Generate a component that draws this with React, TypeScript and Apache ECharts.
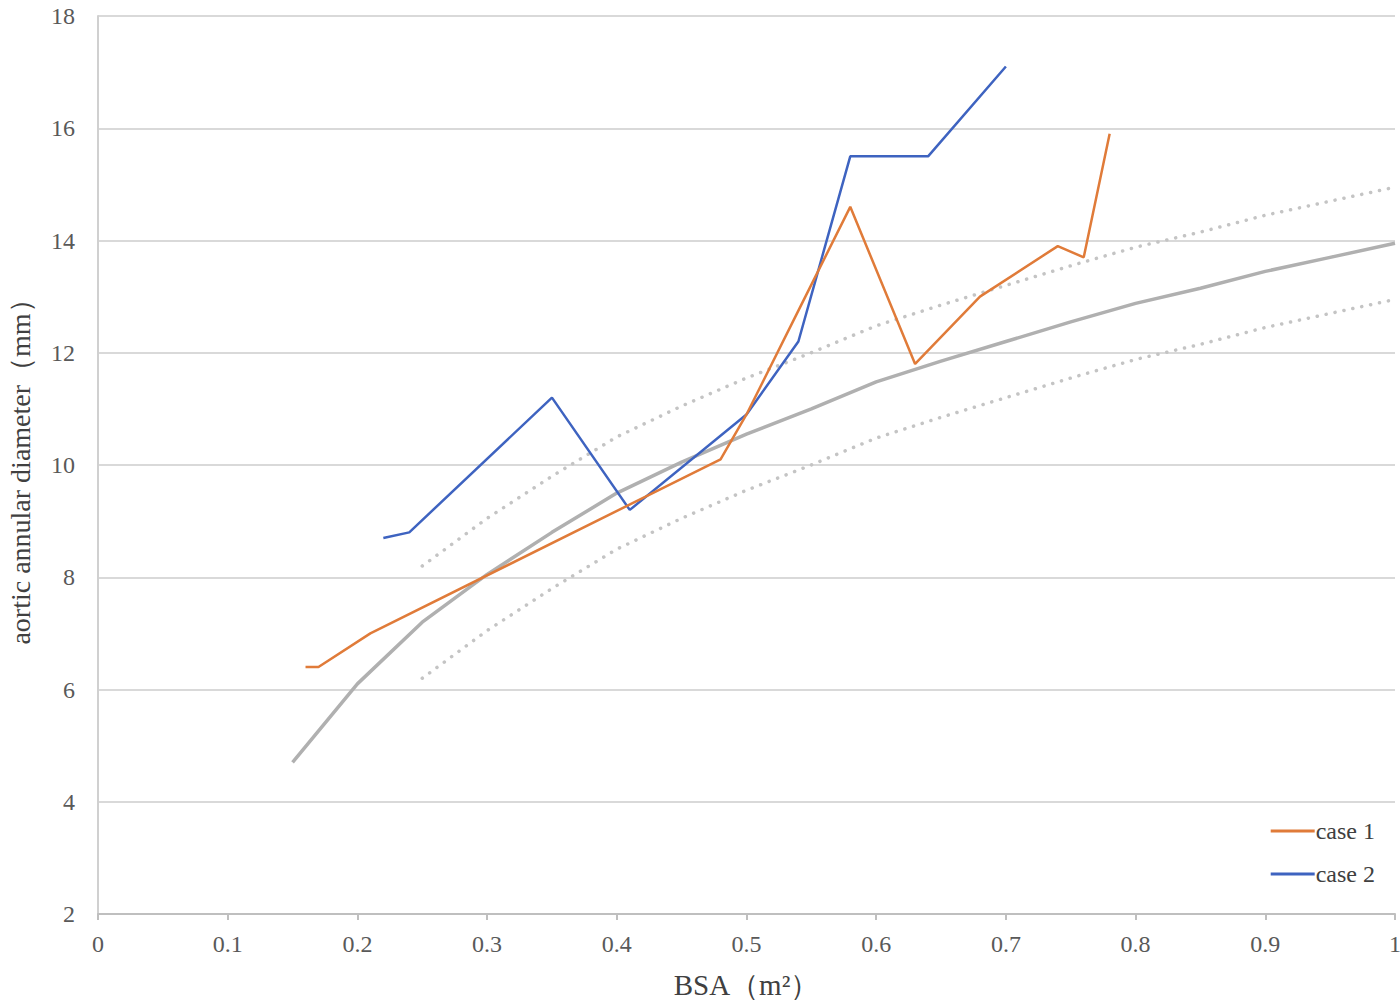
import React, { useEffect, useRef } from "react";
import * as echarts from "echarts";

const meanX = [0.15, 0.2, 0.25, 0.3, 0.35, 0.4, 0.45, 0.5, 0.55, 0.6, 0.65, 0.7, 0.75, 0.8, 0.85, 0.9, 0.95, 1.0];
const meanY = [4.7, 6.1, 7.2, 8.05, 8.8, 9.5, 10.05, 10.55, 11.0, 11.48, 11.85, 12.2, 12.55, 12.88, 13.15, 13.45, 13.7, 13.95];

const bandX = [0.25, 0.3, 0.35, 0.4, 0.45, 0.5, 0.55, 0.6, 0.65, 0.7, 0.75, 0.8, 0.85, 0.9, 0.95, 1.0];
const upperY = [8.2, 9.05, 9.8, 10.5, 11.05, 11.55, 12.0, 12.48, 12.85, 13.2, 13.55, 13.88, 14.15, 14.45, 14.7, 14.95];
const lowerY = [6.2, 7.05, 7.8, 8.5, 9.05, 9.55, 10.0, 10.48, 10.85, 11.2, 11.55, 11.88, 12.15, 12.45, 12.7, 12.95];

const case1X = [0.16, 0.17, 0.21, 0.48, 0.5, 0.54, 0.58, 0.63, 0.68, 0.74, 0.76, 0.78];
const case1Y = [6.4, 6.4, 7.0, 10.1, 10.9, 12.75, 14.6, 11.8, 13.0, 13.9, 13.7, 15.9];

const case2X = [0.22, 0.24, 0.35, 0.41, 0.5, 0.54, 0.58, 0.64, 0.7];
const case2Y = [8.7, 8.8, 11.2, 9.2, 10.9, 12.2, 15.5, 15.5, 17.1];

const xTicks = ["0", "0.1", "0.2", "0.3", "0.4", "0.5", "0.6", "0.7", "0.8", "0.9", "1"];

const zip = (xs: number[], ys: number[]) => xs.map((x, i) => [x, ys[i]]);

const FONT = "'Liberation Serif', 'Times New Roman', 'Noto Serif', serif";

export default function App() {
  const ref = useRef<HTMLDivElement>(null);
  useEffect(() => {
    if (!ref.current) return;
    const chart = echarts.init(ref.current, undefined, { renderer: "svg" });
    chart.setOption({
      animation: false,
      backgroundColor: "#ffffff",
      textStyle: { fontFamily: FONT },
      grid: { left: 98, right: 5, top: 16, bottom: 91, containLabel: false, outerBoundsMode: "none" },
      legend: {
        data: ["case 1", "case 2"],
        orient: "vertical",
        right: 20,
        top: 814,
        itemWidth: 44,
        itemHeight: 3,
        itemGap: 19,
        icon: "rect",
        textStyle: { fontFamily: FONT, fontSize: 24, color: "#404040", padding: [0, 0, 0, -4] },
      },
      xAxis: {
        type: "value",
        min: 0,
        max: 1,
        interval: 0.1,
        name: "BSA（m²）",
        nameLocation: "middle",
        nameGap: 56,
        nameTextStyle: { fontFamily: FONT, fontSize: 29, color: "#404040" },
        axisLine: { show: true, lineStyle: { color: "#bfbfbf", width: 2 } },
        axisTick: { show: true, inside: false, length: 6, lineStyle: { color: "#bfbfbf", width: 2 } },
        axisLabel: {
          fontFamily: FONT,
          fontSize: 24,
          color: "#595959",
          margin: 18,
          formatter: (v: number) => xTicks[Math.round(v * 10)] ?? String(v),
        },
        splitLine: { show: false },
      },
      yAxis: {
        type: "value",
        min: 2,
        max: 18,
        interval: 2,
        name: "aortic annular diameter（mm）",
        nameLocation: "middle",
        nameGap: 64,
        nameRotate: 90,
        nameTextStyle: { fontFamily: FONT, fontSize: 28, color: "#404040" },
        axisLine: { show: true, lineStyle: { color: "#d0d0d0", width: 2 } },
        axisTick: { show: false },
        axisLabel: { fontFamily: FONT, fontSize: 24, color: "#595959", margin: 23 },
        splitLine: { show: true, lineStyle: { color: "#d9d9d9", width: 2 } },
      },
      series: [
        {
          name: "mean",
          type: "line",
          data: zip(meanX, meanY),
          symbol: "none",
          lineStyle: { color: "#b0b0b0", width: 3.5 },
          z: 2,
        },
        {
          name: "upper",
          type: "line",
          data: zip(bandX, upperY),
          symbol: "none",
          lineStyle: { color: "#c4c4c4", width: 3.5, type: [0.1, 9], cap: "round" },
          z: 1,
        },
        {
          name: "lower",
          type: "line",
          data: zip(bandX, lowerY),
          symbol: "none",
          lineStyle: { color: "#c4c4c4", width: 3.5, type: [0.1, 9], cap: "round" },
          z: 1,
        },
        {
          name: "case 1",
          type: "line",
          data: zip(case1X, case1Y),
          symbol: "none",
          itemStyle: { color: "#E07B39" },
          lineStyle: { color: "#E07B39", width: 2.5 },
          z: 4,
        },
        {
          name: "case 2",
          type: "line",
          data: zip(case2X, case2Y),
          symbol: "none",
          itemStyle: { color: "#3E63C0" },
          lineStyle: { color: "#3E63C0", width: 2.5 },
          z: 3,
        },
      ],
    });
    return () => chart.dispose();
  }, []);
  return (
    <div
      ref={ref}
      style={{ position: "fixed", left: 0, top: 0, width: 1400, height: 1005, background: "#fff" }}
    />
  );
}
